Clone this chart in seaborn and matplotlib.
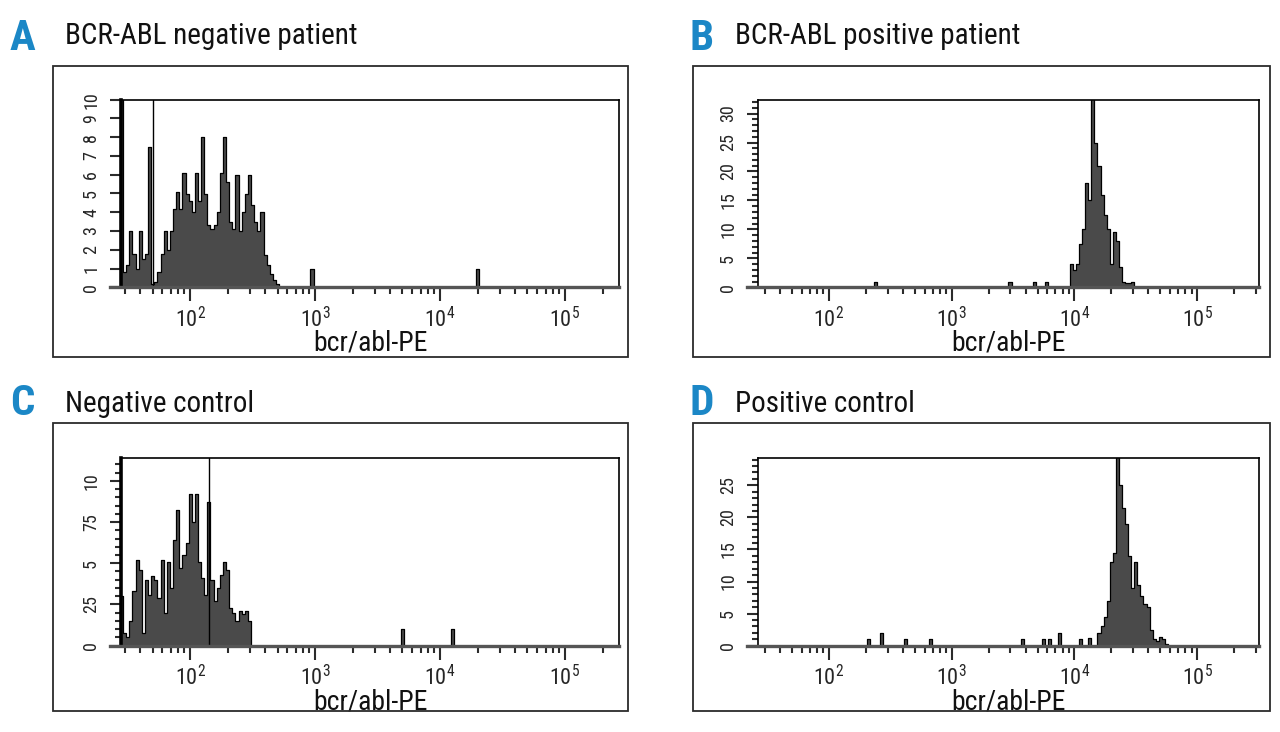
import numpy as np
import pandas as pd
import seaborn as sns
import matplotlib.pyplot as plt
from matplotlib import font_manager
from matplotlib.patches import Rectangle
from matplotlib.ticker import LogLocator, MultipleLocator, NullFormatter

sns.set_style("white")

# pick a narrow sans family if one is installed
installed = font_manager.fontManager.ttflist
names = {f.name for f in installed}
narrow = None
for cand in ["Liberation Sans Narrow", "Roboto Condensed", "Noto Sans Condensed",
             "DejaVu Sans Condensed", "Open Sans Condensed", "Arial Narrow"]:
    if cand in names:
        narrow = cand
        break
stretch = "normal"
if narrow is None:
    cond = [f for f in installed if f.stretch in ("condensed", "semi-condensed",
                                                  "extra-condensed")]
    if cond:
        narrow = cond[0].name
        stretch = cond[0].stretch
    else:
        narrow = "Liberation Sans"
plt.rcParams['font.family'] = [narrow, 'DejaVu Sans']
plt.rcParams['font.stretch'] = stretch
plt.rcParams['mathtext.fontset'] = 'custom'
plt.rcParams['mathtext.rm'] = narrow
plt.rcParams['mathtext.it'] = narrow

# panel text
letters = ["A", "B", "C", "D"]
titles = ["BCR-ABL negative patient", "BCR-ABL positive patient",
          "Negative control", "Positive control"]
x_label = "bcr/abl-PE"
x_ticks = [1e2, 1e3, 1e4, 1e5]
x_tick_labels = [r"$\mathregular{10^{2}}$", r"$\mathregular{10^{3}}$",
                 r"$\mathregular{10^{4}}$", r"$\mathregular{10^{5}}$"]

# histogram bins: log10 channel centres and event counts
a_log = [1.45, 1.475, 1.50, 1.525, 1.55, 1.575, 1.60, 1.625, 1.65, 1.675,
         1.70, 1.725, 1.75, 1.775, 1.80, 1.825, 1.85, 1.875, 1.90, 1.925,
         1.95, 1.975, 2.00, 2.025, 2.05, 2.075, 2.10, 2.125, 2.15, 2.175,
         2.20, 2.225, 2.25, 2.275, 2.30, 2.325, 2.35, 2.375, 2.40, 2.425,
         2.45, 2.475, 2.50, 2.525, 2.55, 2.575, 2.60, 2.625, 2.65, 2.675,
         2.70, 2.975, 4.30]
a_cnt = [12, 0.8, 1.2, 3, 1.8, 1, 3, 1.5, 1.8, 7.5,
         0.2, 0.3, 0.8, 1.8, 3, 2, 3, 4.2, 5.1, 4.2,
         6.1, 5, 4.6, 4, 6.1, 4.6, 8, 5, 3.3, 3.1,
         3.3, 4, 6.1, 8, 5.6, 3.5, 3.1, 6, 3, 4,
         5, 6, 4.4, 3.5, 3, 4, 1.7, 1.2, 0.7, 0.4,
         0.2, 1, 1]

b_log = [2.375, 3.475, 3.675, 3.775,
         3.975, 4.00, 4.025, 4.05, 4.075, 4.10, 4.125, 4.15, 4.175, 4.20,
         4.225, 4.25, 4.275, 4.30, 4.325, 4.35, 4.375, 4.40, 4.425, 4.45,
         4.475]
b_cnt = [1, 1, 1, 1,
         4, 3, 4, 7.5, 10, 18, 15, 33, 25, 21,
         16, 12.5, 10, 4, 9.5, 8, 3.5, 1, 0.8, 0.7,
         1]

c_log = [1.45, 1.475, 1.50, 1.525, 1.55, 1.575, 1.60, 1.625, 1.65, 1.675,
         1.70, 1.725, 1.75, 1.775, 1.80, 1.825, 1.85, 1.875, 1.90, 1.925,
         1.95, 1.975, 2.00, 2.025, 2.05, 2.075, 2.10, 2.125, 2.15, 2.175,
         2.20, 2.225, 2.25, 2.275, 2.30, 2.325, 2.35, 2.375, 2.40, 2.425,
         2.45, 2.475, 3.70, 4.10]
c_cnt = [3, 0.8, 0.5, 1.5, 3.3, 5.2, 4.6, 0.8, 4, 3.1,
         4.2, 4, 2.9, 5.2, 2, 5.1, 3.5, 6.4, 8.2, 4.7,
         5.5, 6.2, 9.2, 7.5, 9.2, 5.1, 4.1, 3.1, 8.7, 4,
         2.7, 3.5, 4.3, 5.1, 4.6, 2.3, 2, 1.5, 2.1, 1.9,
         2.1, 1.5, 1, 1]

d_log = [2.325, 2.425, 2.625, 2.825, 3.575, 3.75, 3.80, 3.875, 4.05, 4.125,
         4.20, 4.225, 4.25, 4.275, 4.30, 4.325, 4.35, 4.375, 4.40, 4.425,
         4.45, 4.475, 4.50, 4.525, 4.55, 4.575, 4.60, 4.625, 4.65, 4.675,
         4.70, 4.725, 4.75]
d_cnt = [1, 2, 1, 1, 1, 1, 1, 2, 1, 1.2,
         2, 3, 4.5, 7, 13, 14.5, 29.5, 25, 21.5, 19,
         14, 9, 13, 9.5, 7.7, 6.5, 6, 2.5, 1, 0.7,
         1.4, 1, 0.3]

# gate markers (linear intensity)
a_gate = 50
c_gate = 141

# y axes
a_yticks = [0, 1, 2, 3, 4, 5, 6, 7, 8, 9, 10]
a_ylabels = ["0", "1", "2", "3", "4", "5", "6", "7", "8", "9", "10"]
b_yticks = [0, 5, 10, 15, 20, 25, 30]
b_ylabels = ["0", "5", "10", "15", "20", "25", "30"]
c_yticks = [0, 2.5, 5, 7.5, 10]
c_ylabels = ["0", "25", "5", "75", "10"]
d_yticks = [0, 5, 10, 15, 20, 25]
d_ylabels = ["0", "5", "10", "15", "20", "25"]

W, H = 1280, 732
fig = plt.figure(figsize=(W / 100, H / 100), dpi=100)

bin_edges = list(np.arange(1.4375, 5.45, 0.025))
xlim_left = (10 ** 1.446, 10 ** 5.433)
xlim_right = (10 ** 1.421, 10 ** 5.504)
blue = "#1b87c6"
ink = "#2b2b2b"


def draw_panel(rect, logs, counts, xlim, ymax, yticks, ylabels, yminor,
               gate=None, thick_left=False):
    ax = fig.add_axes([rect[0] / W, 1 - rect[3] / H,
                       (rect[2] - rect[0]) / W, (rect[3] - rect[1]) / H])
    df = pd.DataFrame({"intensity": 10 ** np.array(logs),
                       "count": np.array(counts, dtype=float)})
    sns.histplot(data=df, x="intensity", weights="count", bins=bin_edges,
                 log_scale=True, element="step", fill=True,
                 color="#4a4a4a", edgecolor="black", linewidth=0.9,
                 alpha=1, ax=ax)
    if gate is not None:
        ax.axvline(gate, color="black", lw=1.0)
    ax.set_xlim(*xlim)
    ax.set_ylim(0, ymax)

    ax.set_xticks(x_ticks)
    ax.set_xticklabels(x_tick_labels)
    ax.xaxis.set_minor_locator(LogLocator(base=10, subs=range(2, 10)))
    ax.xaxis.set_minor_formatter(NullFormatter())
    ax.set_yticks(yticks)
    ax.set_yticklabels(ylabels)
    if yminor:
        ax.yaxis.set_minor_locator(MultipleLocator(yminor))

    ax.tick_params(axis="x", which="major", length=10, width=1.5,
                   color=ink, labelsize=16, pad=4, direction="out",
                   bottom=True)
    ax.tick_params(axis="x", which="minor", length=5, width=1.5,
                   color=ink, bottom=True)
    ax.tick_params(axis="y", which="major", length=8, width=1.5,
                   color=ink, labelsize=13, pad=7, labelrotation=90,
                   left=True)
    ax.tick_params(axis="y", which="minor", length=4.5, width=1.5,
                   color=ink, left=True)
    for lab in ax.get_yticklabels():
        lab.set_va("center")

    ax.set_xlabel(x_label, fontsize=20, labelpad=-1.5, color="#111111")
    ax.set_ylabel("")
    for side in ["top", "right"]:
        ax.spines[side].set_visible(True)
        ax.spines[side].set_color("black")
        ax.spines[side].set_linewidth(1.2)
    ax.spines["left"].set_color("black")
    ax.spines["left"].set_linewidth(2.6 if thick_left else 1.2)
    ax.spines["bottom"].set_color("#555555")
    ax.spines["bottom"].set_linewidth(2.4)
    ax.spines["bottom"].set_bounds(xlim[0] / 10 ** 0.09, xlim[1])
    ax.set_facecolor("white")
    return ax


# axes rectangles in pixels: left, top, right, bottom
draw_panel((121, 99.7, 619, 287.3), a_log, a_cnt, xlim_left, 10,
           a_yticks, a_ylabels, None, gate=a_gate, thick_left=True)
draw_panel((758, 99.7, 1259, 287.3), b_log, b_cnt, xlim_right, 32.4,
           b_yticks, b_ylabels, 1)
draw_panel((121, 457.7, 619, 645.7), c_log, c_cnt, xlim_left, 11.4,
           c_yticks, c_ylabels, 0.5, gate=c_gate, thick_left=True)
draw_panel((758, 457.7, 1259, 645.7), d_log, d_cnt, xlim_right, 29.3,
           d_yticks, d_ylabels, 1)

# outer frames and headings
frames = [(53, 66, 628, 357), (693, 66, 1270, 357),
          (53, 423, 628, 711), (693, 423, 1270, 711)]
heads = [(10, 50, 65, 44), (690, 50, 735, 44),
         (10, 415, 65, 412), (690, 415, 735, 412)]
for (x0, y0, x1, y1), (lx, ly, tx, ty), let, tit in zip(frames, heads,
                                                         letters, titles):
    fig.add_artist(Rectangle((x0 / W, 1 - y1 / H), (x1 - x0) / W,
                             (y1 - y0) / H, transform=fig.transFigure,
                             fill=False, lw=1.3, ec=ink))
    fig.text(lx / W, 1 - ly / H, let, color=blue, fontsize=31,
             fontweight="bold", ha="left", va="baseline")
    fig.text(tx / W, 1 - ty / H, tit, color="#111111", fontsize=21,
             ha="left", va="baseline")

fig.savefig("out.png", dpi=100)
